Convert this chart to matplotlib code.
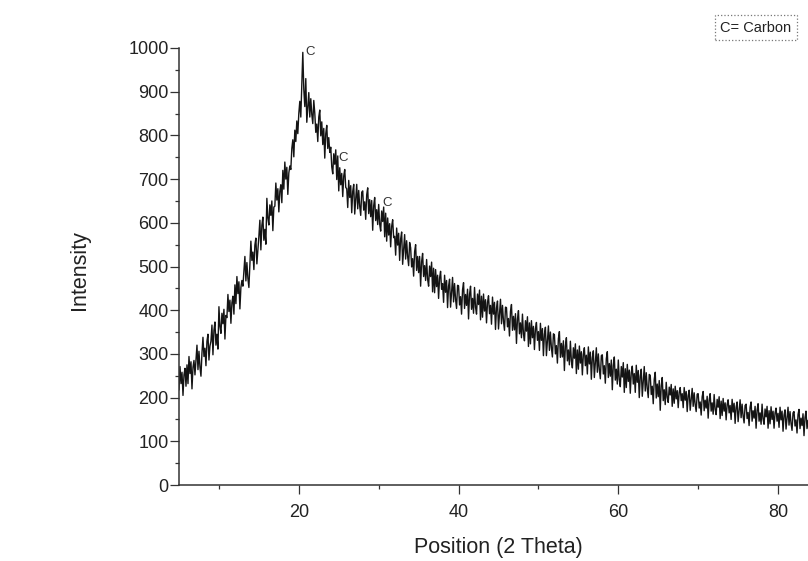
import numpy as np
import matplotlib
matplotlib.use("Agg")
import matplotlib.pyplot as plt

intensity = [
    218, 271, 232, 258, 205, 252, 267, 226,   # 5
    275, 232, 294, 255, 282, 220, 269, 285,   # 6
    252, 288, 320, 264, 306, 270, 249, 302,   # 7
    338, 294, 313, 273, 329, 345, 286, 318,   # 8
    329, 366, 298, 354, 373, 320, 345, 311,   # 9
    408, 363, 347, 393, 369, 402, 334, 388,   # 10
    383, 436, 397, 423, 370, 417, 432, 391,   # 11
    458, 415, 477, 438, 465, 403, 452, 468,   # 12
    455, 491, 523, 467, 509, 473, 452, 505,   # 13
    558, 514, 533, 493, 549, 565, 506, 538,   # 14
    569, 606, 538, 594, 613, 560, 585, 551,   # 15
    656, 611, 595, 641, 617, 650, 582, 636,   # 16
    638, 691, 652, 678, 625, 672, 687, 646,   # 17
    720, 677, 739, 700, 727, 665, 714, 730,   # 18
    722, 770, 790, 751, 812, 786, 833, 804,   # 19
    850, 878, 842, 915, 990, 905, 866, 930,   # 20
    830, 866, 898, 842, 884, 848, 827, 880,   # 21
    851, 807, 826, 786, 842, 858, 799, 831,   # 22
    779, 816, 748, 804, 823, 770, 795, 761,   # 23
    773, 728, 712, 758, 734, 767, 699, 753,   # 24
    673, 726, 687, 713, 660, 707, 722, 681,   # 25
    678, 635, 697, 658, 685, 623, 672, 688,   # 26
    620, 656, 688, 632, 674, 638, 617, 670,   # 27
    673, 629, 648, 608, 664, 680, 621, 653,   # 28
    614, 651, 583, 639, 658, 605, 630, 596,   # 29
    642, 597, 581, 627, 603, 636, 568, 622,   # 30
    558, 611, 572, 598, 545, 592, 607, 566,   # 31
    569, 526, 588, 549, 576, 514, 563, 579,   # 32
    505, 541, 573, 517, 559, 523, 502, 555,   # 33
    543, 499, 518, 478, 534, 550, 491, 523,   # 34
    486, 523, 455, 511, 530, 477, 502, 468,   # 35
    516, 471, 455, 501, 477, 510, 442, 496,   # 36
    440, 493, 454, 480, 427, 474, 489, 448,   # 37
    461, 418, 480, 441, 468, 406, 455, 471,   # 38
    407, 443, 475, 419, 461, 425, 404, 457,   # 39
    456, 412, 431, 391, 447, 463, 404, 436,   # 40
    411, 448, 380, 436, 455, 402, 427, 393,   # 41
    452, 407, 391, 437, 413, 446, 378, 432,   # 42
    384, 437, 398, 424, 371, 418, 433, 392,   # 43
    411, 368, 430, 391, 418, 356, 405, 421,   # 44
    357, 393, 425, 369, 411, 375, 354, 407,   # 45
    406, 362, 381, 341, 397, 413, 354, 386,   # 46
    355, 392, 324, 380, 399, 346, 371, 337,   # 47
    391, 346, 330, 376, 352, 385, 317, 371,   # 48
    323, 376, 337, 363, 310, 357, 372, 331,   # 49
    351, 308, 370, 331, 358, 296, 345, 361,   # 50
    296, 332, 364, 308, 350, 314, 293, 346,   # 51
    344, 300, 319, 279, 335, 351, 292, 324,   # 52
    293, 330, 262, 318, 337, 284, 309, 275,   # 53
    329, 284, 268, 314, 290, 323, 255, 309,   # 54
    265, 318, 279, 305, 252, 299, 314, 273,   # 55
    297, 254, 316, 277, 304, 242, 291, 307,   # 56
    246, 282, 314, 258, 300, 264, 243, 296,   # 57
    298, 254, 273, 233, 289, 305, 246, 278,   # 58
    249, 286, 218, 274, 293, 240, 265, 231,   # 59
    286, 241, 225, 271, 247, 280, 212, 266,   # 60
    223, 276, 237, 263, 210, 257, 272, 231,   # 61
    255, 212, 274, 235, 262, 200, 249, 265,   # 62
    203, 239, 271, 215, 257, 221, 200, 253,   # 63
    251, 207, 226, 186, 242, 258, 199, 231,   # 64
    202, 239, 171, 227, 246, 193, 218, 184,   # 65
    235, 201, 189, 224, 206, 230, 180, 220,   # 66
    187, 226, 197, 216, 177, 212, 223, 193,   # 67
    209, 177, 223, 194, 214, 168, 205, 217,   # 68
    171, 197, 221, 180, 211, 184, 168, 208,   # 69
    209, 176, 190, 160, 202, 214, 170, 194,   # 70
    176, 203, 153, 194, 209, 169, 188, 162,   # 71
    207, 173, 161, 196, 178, 202, 152, 192,   # 72
    159, 198, 169, 188, 149, 184, 195, 165,   # 73
    182, 150, 196, 167, 187, 141, 178, 190,   # 74
    145, 171, 195, 154, 185, 158, 142, 182,   # 75
    185, 152, 166, 136, 178, 190, 146, 170,   # 76
    153, 180, 130, 171, 186, 146, 165, 139,   # 77
    185, 151, 139, 174, 156, 180, 130, 170,   # 78
    140, 179, 150, 169, 130, 165, 176, 146,   # 79
    164, 132, 178, 149, 169, 123, 160, 172,   # 80
    128, 154, 178, 137, 168, 141, 125, 165,   # 81
    168, 135, 149, 119, 161, 173, 129, 153,   # 82
    136, 163, 113, 154, 169, 129, 148, 122,   # 83
    141,                                      # 84
]
start_angle = 5.0
step_angle = 0.125
two_theta = start_angle + step_angle * np.arange(len(intensity))

# peak markers ("C" = carbon)
peak_x = [21.4, 25.6, 31.1]
peak_y = [990, 748, 645]
peak_labels = ["C", "C", "C"]

x_ticks = [20, 40, 60, 80]
y_ticks = [0, 100, 200, 300, 400, 500, 600, 700, 800, 900, 1000]

plt.rcParams['font.family'] = ['Liberation Sans', 'DejaVu Sans']

fig = plt.figure(figsize=(8.08, 5.61), dpi=100)
ax = fig.add_axes([179/808, 1 - 485/561, 1 - 179/808, (485 - 48)/561])

ax.plot(two_theta, intensity, color="#141414", lw=1.0)

for px, py, lab in zip(peak_x, peak_y, peak_labels):
    ax.text(px, py, lab, fontsize=9.5, color="#333333", ha="center", va="center")

ax.set_xlim(5, 83.75)
ax.set_ylim(0, 1000)
ax.set_xticks(x_ticks)
ax.set_xticks([10, 30, 50, 70], minor=True)
ax.set_yticks(y_ticks)
ax.set_yticks([50, 150, 250, 350, 450, 550, 650, 750, 850, 950], minor=True)

for s in ["top", "right"]:
    ax.spines[s].set_visible(False)
for s in ["left", "bottom"]:
    ax.spines[s].set_linewidth(1.1)
    ax.spines[s].set_color("#333333")

ax.tick_params(which="major", direction="out", length=6.5, width=0.9,
               colors="#333333", labelsize=13, labelcolor="#222222")
ax.tick_params(which="minor", direction="out", length=3, width=0.9, colors="#333333")
ax.tick_params(axis="y", pad=1.0)
ax.tick_params(axis="x", pad=7)

fig.text(80/808, 1 - 270/561, "Intensity", rotation=90, fontsize=15.5,
         ha="center", va="center", color="#222222")
fig.text(498/808, 1 - 553/561, "Position (2 Theta)", fontsize=15.5,
         ha="center", va="baseline", color="#222222")

fig.text(756/808, 1 - 27.5/561, "C= Carbon", fontsize=10.5, ha="center", va="center",
         color="#222222",
         bbox=dict(boxstyle="square,pad=0.35", facecolor="white",
                   edgecolor="#777777", linestyle=":", linewidth=0.9))

fig.savefig("out.png", dpi=100)
